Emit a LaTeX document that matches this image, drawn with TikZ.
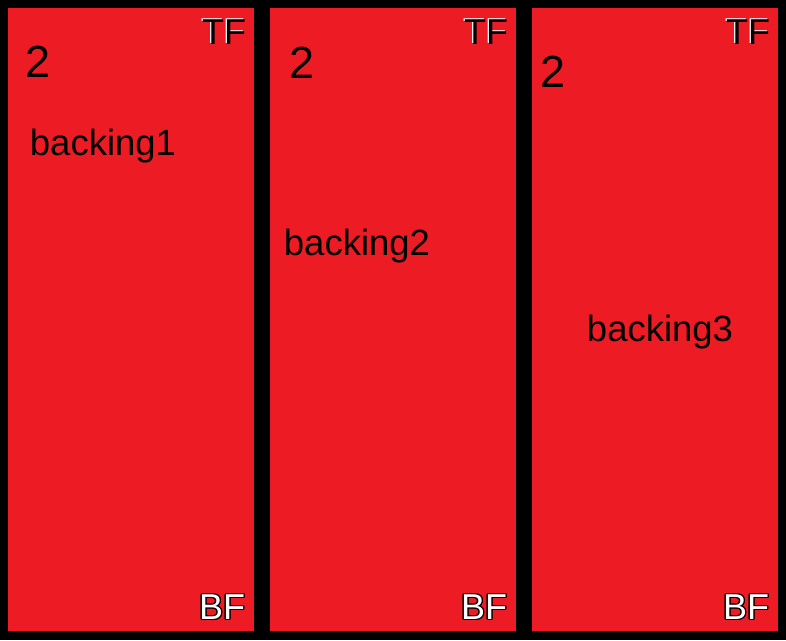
\documentclass[tikz,border=0pt]{standalone}
\usepackage{fontspec}
\setmainfont{Liberation Sans}
\definecolor{panelred}{HTML}{ED1C24}
\begin{document}
\begin{tikzpicture}[x=1pt,y=-1pt,
  panel/.style={fill=panelred,draw=none},
  big/.style={inner sep=0pt,font=\fontsize{45}{45}\selectfont,text=black},
  lbl/.style={inner sep=0pt,font=\fontsize{36.5}{36.5}\selectfont,text=black},
  corner/.style={inner sep=0pt,font=\fontsize{36}{36}\selectfont}]
\fill[black] (0,0) rectangle (786,640);
\useasboundingbox (0,0) rectangle (786,640);
\foreach \x in {8,270,532}{
  \path[panel] (\x,8) rectangle ++(246,623);
}
% numbers
\node[big] (n1) at (38,62) {2};
\node[big] (n2) at (302,63) {2};
\node[big] (n3) at (553,72) {2};
% labels
\node[lbl] (b1) at (103,146) {backing1};
\node[lbl] (b2) at (357,246) {backing2};
\node[lbl] (b3) at (660,332) {backing3};
% TF labels: black with white edge
\foreach \cx/\nm in {224/t1,486/t2,748/t3}{
  \node[corner,text=white] at (\cx-1.2,32-1) {TF};
  \node[corner,text=black] (\nm) at (\cx,32) {TF};
}
% BF labels: white with black edge
\foreach \cx/\nm in {222/f1,484/f2,746/f3}{
  \foreach \dx/\dy in {-1.3/0,1.3/0,0/-1.3,0/1.3,-1/1,1/1,-1/-1,1/-1}{
    \node[corner,text=black] at (\cx+\dx,607+\dy) {BF};
  }
  \node[corner,text=white] (\nm) at (\cx,607) {BF};
}
\end{tikzpicture}
\end{document}
